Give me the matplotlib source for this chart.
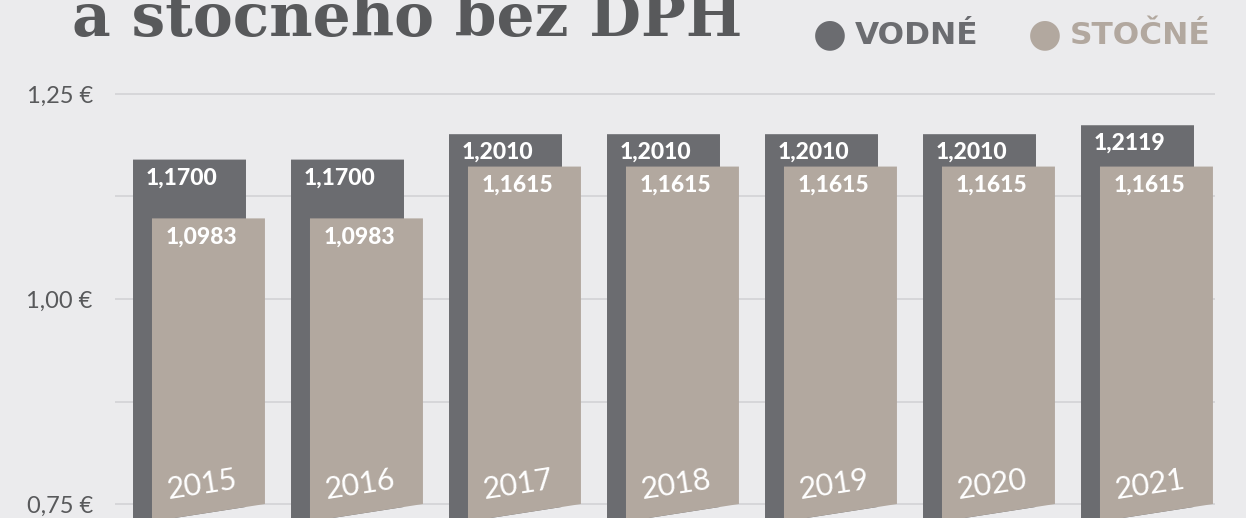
import matplotlib.pyplot as plt
from matplotlib.patches import Polygon

# data
years = ['2015', '2016', '2017', '2018', '2019', '2020', '2021']
vodne = [1.1700, 1.1700, 1.2010, 1.2010, 1.2010, 1.2010, 1.2119]
stocne = [1.0983, 1.0983, 1.1615, 1.1615, 1.1615, 1.1615, 1.1615]
yticks = [0.75, 0.875, 1.00, 1.125, 1.25]
ytick_labels = ['0,75 €', '', '1,00 €', '', '1,25 €']

bg = '#ebebed'
c_vod = '#6b6c70'
c_sto = '#b2a89f'
c_txt = '#58595b'

W, H = 1246, 518
fig = plt.figure(figsize=(W / 100, H / 100), dpi=100, facecolor=bg)
ax = fig.add_axes([115 / W, 0, 1100 / W, 1])
ax.set_facecolor(bg)

bar_w = 0.715
shift = 0.12
slope = 0.0299  # drop of the slanted bottom per x unit

for i, (y, v, s) in enumerate(zip(years, vodne, stocne)):
    vl, vr = i - bar_w / 2, i + bar_w / 2
    sl, sr = vl + shift, vr + shift

    def bottom(x):
        return 0.75 - slope * (sr - x)

    ax.add_patch(Polygon([(vl, bottom(vl)), (vr, bottom(vr)), (vr, v), (vl, v)],
                         closed=True, facecolor=c_vod, edgecolor='none', zorder=2))
    ax.add_patch(Polygon([(sl, bottom(sl)), (sr, bottom(sr)), (sr, s), (sl, s)],
                         closed=True, facecolor=c_sto, edgecolor='none', zorder=3))

    ax.annotate(f'{v:.4f}'.replace('.', ','), (vl, v), xytext=(9, -13),
                textcoords='offset points', ha='left', va='center',
                color='white', fontsize=16.5, fontweight='black', family='Lato', zorder=4)
    ax.annotate(f'{s:.4f}'.replace('.', ','), (sl, s), xytext=(9.5, -13.5),
                textcoords='offset points', ha='left', va='center',
                color='white', fontsize=16.5, fontweight='black', family='Lato', zorder=4)
    ax.text(i + 0.08, 0.7732, y, rotation=8.8, rotation_mode='anchor',
            ha='center', va='center', color='white', fontsize=22,
            fontweight='normal', family='Lato', zorder=4)

ax.set_xlim(-0.4715, 6.4905)
ax.set_ylim(0.73293, 1.36463)
ax.set_yticks(yticks)
ax.set_yticklabels(ytick_labels, fontsize=17, color=c_txt,
                   family='Lato', fontweight='normal')
ax.tick_params(axis='y', length=0, pad=16)
ax.set_xticks([])
ax.grid(axis='y', color='#d2d2d5', linewidth=1.2)
ax.set_axisbelow(True)
for sp in ax.spines.values():
    sp.set_visible(False)

# title (cut off at the top like the reference)
fig.text(72 / W, 1 - 36 / H, 'a stočného bez DPH', ha='left', va='baseline',
         fontsize=43, fontweight='bold', family='DejaVu Serif', color=c_txt)

# legend
for cx, label, col in [(830, 'VODNÉ', c_vod), (1045, 'STOČNÉ', c_sto)]:
    fig.text(cx / W, 1 - 34 / H, '●', ha='center', va='center',
             fontsize=28, color=col, family='DejaVu Sans')
    fig.text((cx + 25) / W, 1 - 35.5 / H, label, ha='left', va='center',
             fontsize=22.5, fontweight='bold', family='DejaVu Sans', color=col)

fig.savefig('out.png', dpi=100, facecolor=bg)
